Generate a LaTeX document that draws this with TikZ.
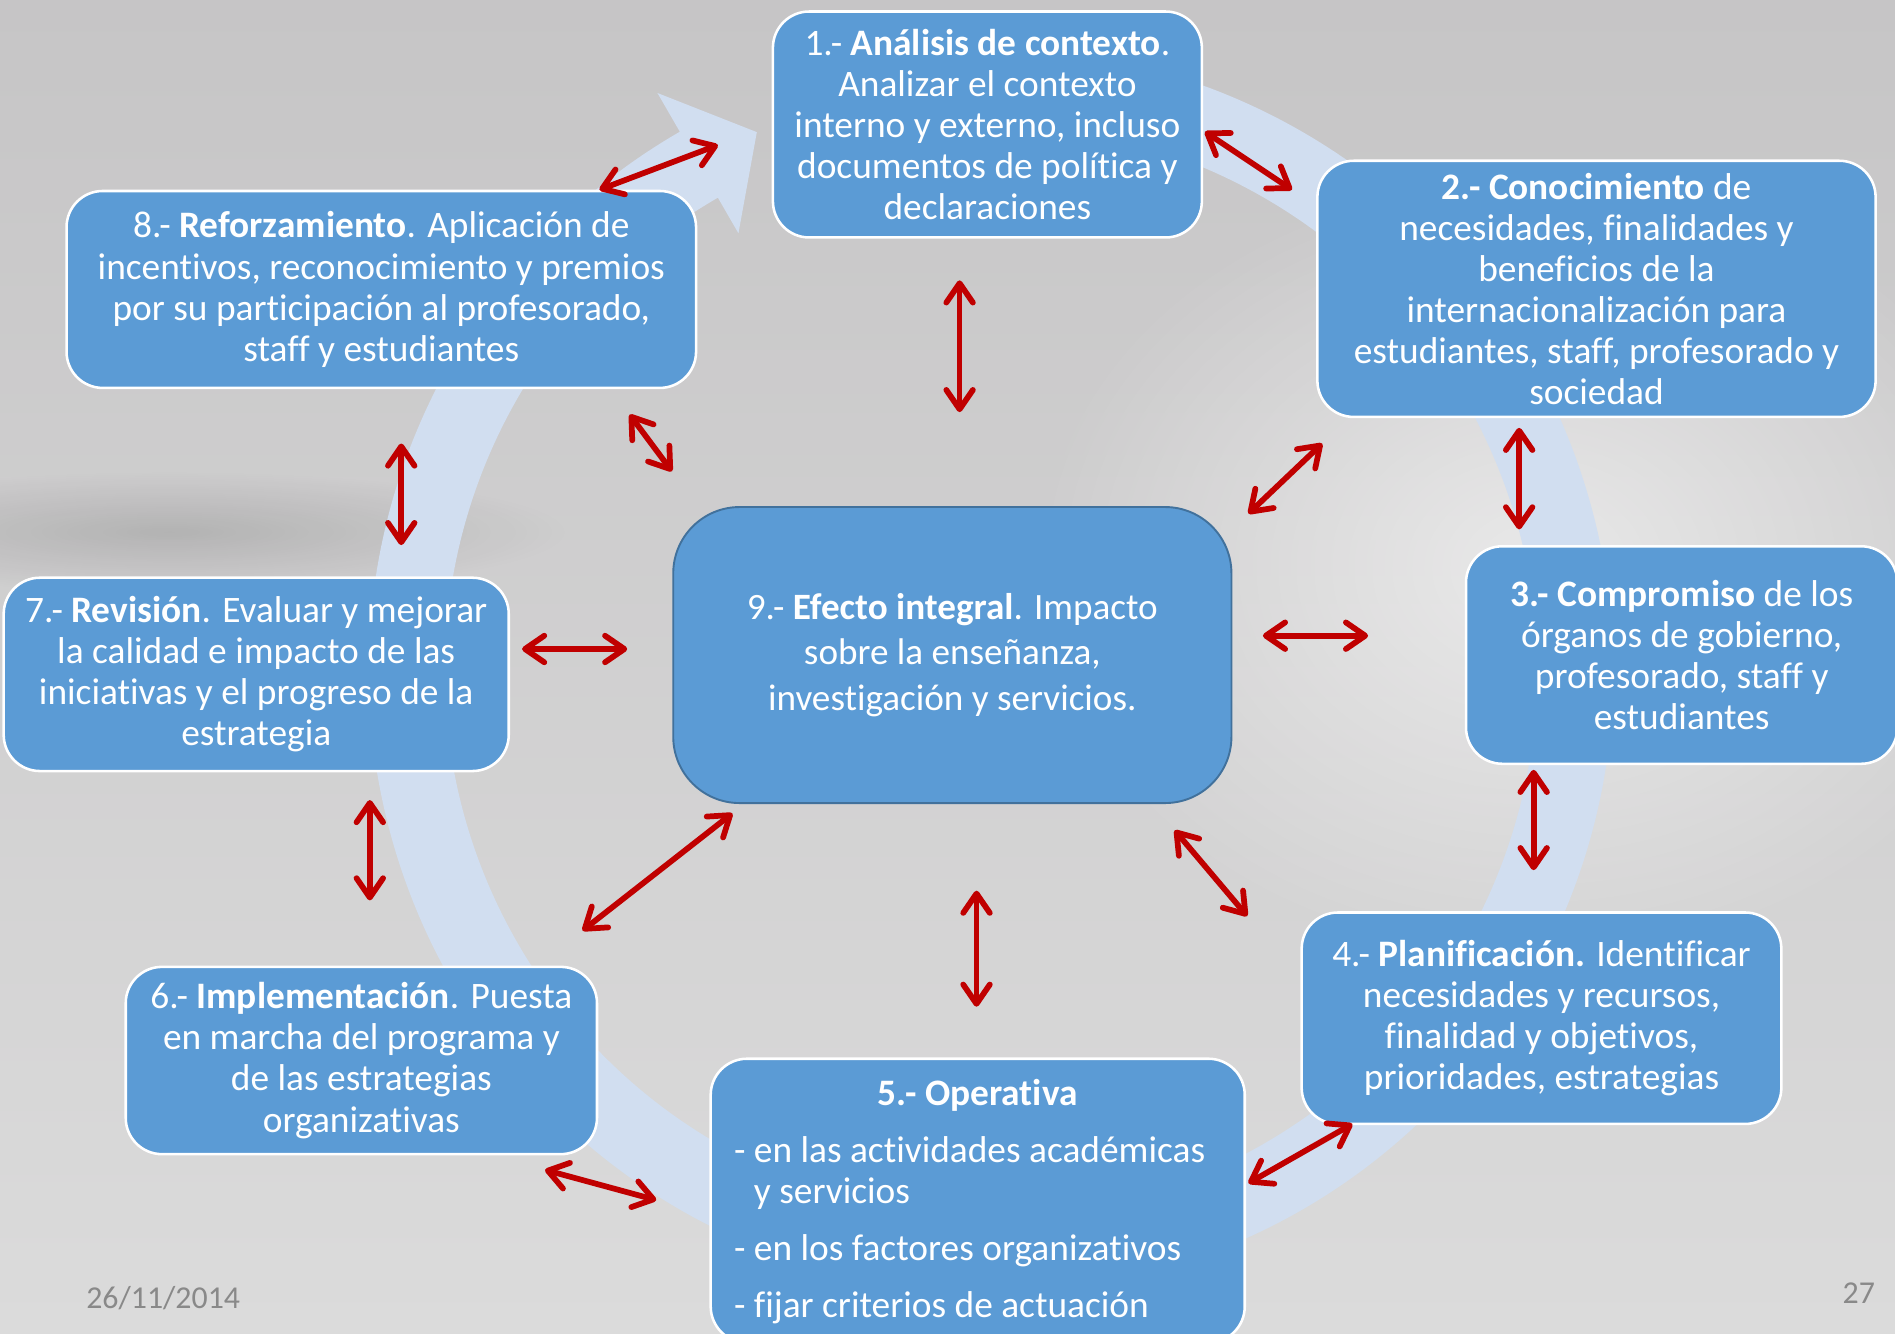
\documentclass[tikz,border=0pt]{standalone}
\usepackage{fontspec}
\setmainfont{Carlito}[Ligatures={NoCommon}]
\usetikzlibrary{arrows.meta,fadings}
\definecolor{boxblue}{RGB}{91,155,213}
\definecolor{boxedge}{RGB}{65,113,156}
\definecolor{ringblue}{RGB}{209,222,240}
\definecolor{arrowred}{RGB}{192,0,0}
\definecolor{datec}{RGB}{137,137,137}
\definecolor{bgtop}{RGB}{198,197,198}
\definecolor{bgbot}{RGB}{219,219,219}
\tikzfading[name=softspot,inner color=transparent!0,outer color=transparent!100]
\begin{document}
\begin{tikzpicture}[x=0.02cm,y=-0.02cm,
    box/.style={draw=white,line width=1.2pt,fill=boxblue,rounded corners=0.6cm,
      text=white,align=center,inner sep=0pt,font=\fontsize{17.6}{19.35}\selectfont},
    centrebox/.style={box,draw=boxedge,line width=0.9pt,rounded corners=1.1cm,
      font=\fontsize{17.5}{21.3}\selectfont},
    boxtext/.style={text=white,inner sep=0pt,font=\fontsize{17.6}{19.35}\selectfont},
    link/.style={arrowred,line width=2.7pt,line cap=round,
      {Straight Barb[length=0.32cm,width=0.44cm,round]}-{Straight Barb[length=0.32cm,width=0.44cm,round]}},
    datetext/.style={text=datec,inner sep=0pt,font=\fontsize{15}{17}\selectfont}]
    \useasboundingbox (0,0) rectangle (1568,1103);
    \shade[top color=bgtop,bottom color=bgbot] (0,0) rectangle (1568,1103);
    \fill[white,opacity=0.55,path fading=softspot] (1270,470) ellipse (420 and 330);
    \fill[black,opacity=0.13,path fading=softspot] (140,440) ellipse (330 and 50);
    \begin{scope}[shift={(820,555)},x=0.02cm,y=0.02cm]
        \fill[ringblue] (105:515) arc[start angle=105,end angle=-240,radius=10.3cm]
            -- (-240:552) -- (-246.5:486) -- (-240:418) -- (-240:452)
            arc[start angle=-240,end angle=105,radius=9.04cm] -- cycle;
    \end{scope}
    \node[box,minimum width=7.1cm,minimum height=3.74cm] (b1) at (817,103)
        {1.- \textbf{Análisis de contexto}.\\Analizar el contexto\\interno y externo, incluso\\documentos de política y\\declaraciones};
    \node[box,minimum width=9.24cm,minimum height=4.24cm] (b2) at (1321,239)
        {\textbf{2.- Conocimiento} de\\necesidades, finalidades y\\beneficios de la\\internacionalización para\\estudiantes, staff, profesorado y\\sociedad};
    \node[box,minimum width=7.14cm,minimum height=3.6cm] (b3) at (1391.5,542)
        {\textbf{3.- Compromiso} de los\\órganos de gobierno,\\profesorado, staff y\\estudiantes};
    \node[box,minimum width=7.94cm,minimum height=3.5cm] (b4) at (1275.5,842.5)
        {4.- \textbf{Planificación.} Identificar\\necesidades y recursos,\\finalidad y objetivos,\\prioridades, estrategias};
    \node[box,minimum width=8.84cm,minimum height=4.7cm] (b5) at (809,993.5) {};
    \node[boxtext] (b5t) at (809,906) {\textbf{5.- Operativa}};
    \node[boxtext,anchor=base west,align=left] (b5l) at (607,1090)
        {- en las actividades académicas\\\hphantom{- }y servicios\\[0.26cm]- en los factores organizativos\\[0.26cm]- fijar criterios de actuación};
    \node[box,minimum width=7.8cm,minimum height=3.1cm] (b6) at (299,877.5)
        {6.- \textbf{Implementación}. Puesta\\en marcha del programa y\\de las estrategias\\organizativas};
    \node[box,minimum width=8.36cm,minimum height=3.2cm] (b7) at (212,558)
        {7.- \textbf{Revisión}. Evaluar y mejorar\\la calidad e impacto de las\\iniciativas y el progreso de la\\estrategia};
    \node[box,minimum width=10.42cm,minimum height=3.26cm] (b8) at (315.5,239.5)
        {8.- \textbf{Reforzamiento}. Aplicación de\\incentivos, reconocimiento y premios\\por su participación al profesorado,\\staff y estudiantes};
    \node[centrebox,minimum width=9.24cm,minimum height=4.9cm] (b9) at (788,542)
        {9.- \textbf{Efecto integral}. Impacto\\sobre la enseñanza,\\investigación y servicios.};
    \foreach \n/\xa/\ya/\xb/\yb in {81/496/157/594/120, 12/997/109/1069/157,
        19/794/232/794/341, 89/521/343/556/390, 92/1033/425/1094/367,
        23/1257/354/1257/438, 93/1045/526/1132/526, 87/332/367/332/451,
        79/432/537/519/537, 34/1269/637/1269/720, 76/306/662/306/745,
        69/482/770/606/673, 94/972/687/1032/758, 95/808/737/808/833,
        65/451/968/543/993, 54/1033/979/1119/930} {
        \coordinate (s\n) at (\xa,\ya);
        \coordinate (e\n) at (\xb,\yb);
        \draw[link] (s\n) -- (e\n);
    }
    \node[datetext] (date) at (135,1074) {26/11/2014};
    \node[datetext] (page) at (1538,1070) {27};
\end{tikzpicture}
\end{document}
